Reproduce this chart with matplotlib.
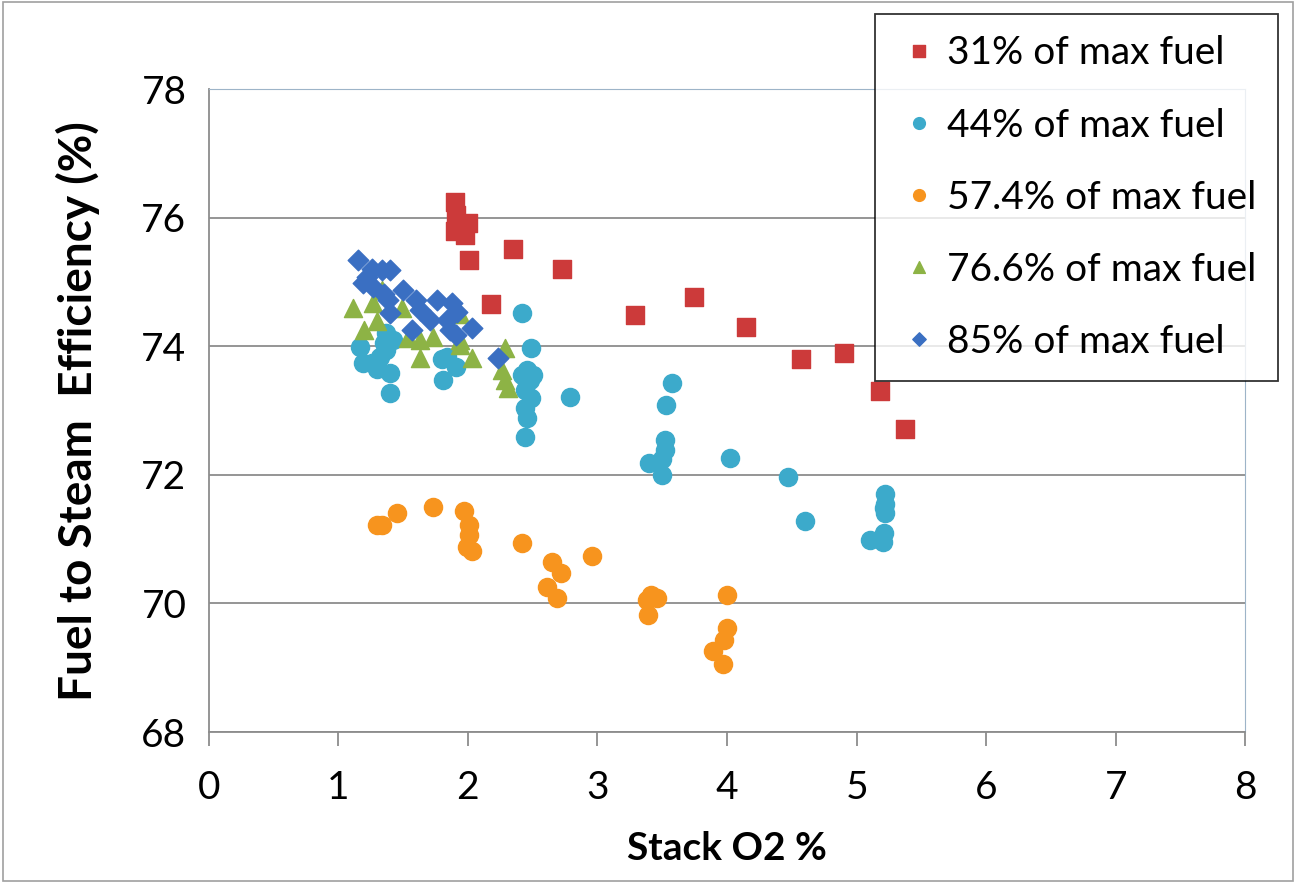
import matplotlib
matplotlib.use("Agg")
import matplotlib.pyplot as plt
from matplotlib.patches import Rectangle

# 31% of max fuel
x31 = [1.90, 1.91, 1.90, 1.97, 1.98, 2.00, 2.01, 2.35, 2.73, 2.18, 3.29, 3.745, 4.15, 4.57, 4.90, 5.18, 5.37]
y31 = [76.24, 76.05, 75.80, 75.85, 75.73, 75.92, 75.34, 75.51, 75.20, 74.66, 74.49, 74.77, 74.30, 73.80, 73.90, 73.30, 72.71]

# 44% of max fuel
x44 = [1.17, 1.19, 1.26, 1.32, 1.37, 1.37, 1.40, 1.40, 1.42, 1.35, 1.30,
       1.81, 1.84, 1.91, 1.80,
       2.42, 2.49, 2.455, 2.48, 2.44, 2.49, 2.44, 2.46, 2.44, 2.42, 2.50, 2.79,
       3.575, 3.53, 3.52, 3.52, 3.40, 3.50, 3.50, 4.02,
       4.47, 4.60, 5.10, 5.20, 5.21, 5.22, 5.22, 5.22, 5.21]
y44 = [73.99, 73.74, 73.74, 73.83, 74.20, 73.94, 73.58, 73.27, 74.10, 74.05, 73.65,
       73.47, 73.83, 73.68, 73.80,
       74.52, 73.97, 73.63, 73.47, 73.32, 73.19, 73.04, 72.88, 72.59, 73.55, 73.55, 73.21,
       73.43, 73.09, 72.54, 72.39, 72.18, 72.00, 72.25, 72.26,
       71.97, 71.28, 70.98, 70.95, 71.10, 71.40, 71.55, 71.70, 71.48]

# 57.4% of max fuel
x57 = [1.30, 1.34, 1.45, 1.73, 1.97, 2.01, 2.01, 1.99, 2.03, 2.42,
       2.65, 2.72, 2.61, 2.69, 2.96, 3.41, 3.38, 3.46, 3.39,
       4.00, 4.00, 3.98, 3.89, 3.97]
y57 = [71.22, 71.22, 71.41, 71.50, 71.44, 71.22, 71.06, 70.88, 70.82, 70.94,
       70.64, 70.47, 70.26, 70.08, 70.74, 70.13, 70.05, 70.08, 69.82,
       70.13, 69.62, 69.43, 69.26, 69.06]

# 76.6% of max fuel
x76 = [1.11, 1.20, 1.30, 1.34, 1.27, 1.49, 1.54, 1.63, 1.73, 1.63, 1.94, 2.03, 1.94,
       2.29, 2.26, 2.29, 2.31, 1.94]
y76 = [74.60, 74.25, 74.40, 74.87, 74.67, 74.60, 74.13, 73.82, 74.14, 74.10, 74.10, 73.82, 74.50,
       73.97, 73.63, 73.47, 73.35, 74.02]

# 85% of max fuel
x85 = [1.15, 1.26, 1.34, 1.40, 1.19, 1.27, 1.35, 1.38, 1.40, 1.50, 1.60, 1.63, 1.57,
       1.71, 1.76, 1.88, 1.84, 1.86, 1.91, 1.92, 2.03, 2.23, 1.22]
y85 = [75.34, 75.21, 75.18, 75.18, 74.98, 74.92, 74.82, 74.72, 74.52, 74.87, 74.72, 74.56, 74.25,
       74.41, 74.72, 74.67, 74.41, 74.25, 74.17, 74.53, 74.28, 73.82, 75.08]

plt.rcParams['font.family'] = ['Lato', 'DejaVu Sans']

fig = plt.figure(figsize=(12.96, 8.83), dpi=100)
ax = fig.add_axes([0.161, 0.171, 0.800, 0.728])

ax.scatter(x31, y31, marker='s', s=150, color='#CC3A3A', label='31% of max fuel', zorder=3)
ax.scatter(x44, y44, marker='o', s=170, color='#3CAACB', label='44% of max fuel', zorder=3)
ax.scatter(x57, y57, marker='o', s=170, color='#F7941E', label='57.4% of max fuel', zorder=3)
ax.scatter(x76, y76, marker='^', s=170, color='#8DB345', label='76.6% of max fuel', zorder=3)
ax.scatter(x85, y85, marker='D', s=110, color='#3A6FC2', label='85% of max fuel', zorder=3)

ax.set_xlim(0, 8)
ax.set_ylim(68, 78)
ax.set_xticks(range(0, 9))
ax.set_yticks(range(68, 79, 2))
ax.grid(axis='y', color='#8C8C8C', linewidth=1.3)
ax.set_axisbelow(True)
for side in ['top', 'right']:
    ax.spines[side].set_color('#9DB4C8')
for side in ['left', 'bottom']:
    ax.spines[side].set_color('#8C8C8C')
    ax.spines[side].set_linewidth(1.3)
ax.tick_params(axis='x', direction='out', length=10, width=1.3, color='#8C8C8C',
               labelsize=28, pad=17)
ax.tick_params(axis='y', direction='out', length=0, labelsize=28, pad=16)

ax.set_xlabel('Stack O2 %', fontsize=28, fontweight='bold', labelpad=18)
ax.set_ylabel('Fuel to Steam  Efficiency (%)', fontsize=33, fontweight='bold', labelpad=30)

leg = fig.legend(loc='upper right', bbox_to_anchor=(1278 / 1296, 1 - 14 / 883),
                 fontsize=28, frameon=True, fancybox=False, edgecolor='black',
                 markerscale=0.65, labelspacing=0.93, handletextpad=0.15,
                 handlelength=1.15, borderpad=0.55, borderaxespad=0, scatteryoffsets=[0.5])
leg.get_frame().set_linewidth(1.3)

fig.patches.append(Rectangle((0.002, 0.002), 0.996, 0.996, transform=fig.transFigure,
                             fill=False, edgecolor='#A0A0A0', linewidth=1.2))

fig.savefig('out.png', dpi=100)
